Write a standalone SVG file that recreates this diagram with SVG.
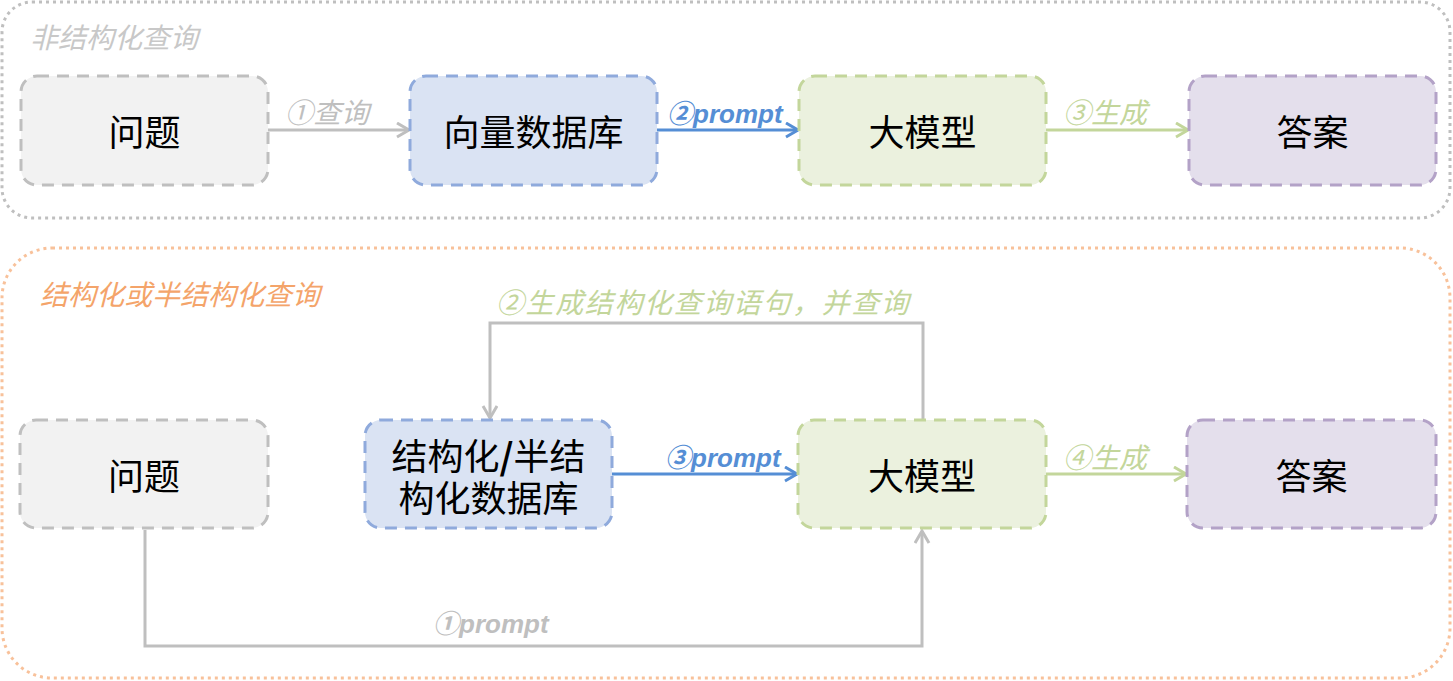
<svg xmlns="http://www.w3.org/2000/svg" width="1453" height="681" viewBox="0 0 1453 681">
<style>
.cont{fill:none;stroke-width:3;stroke-dasharray:3 4}
.node rect{stroke-width:3;stroke-dasharray:12 8}
.gray rect{fill:#f2f2f2;stroke:#bfbfbf}
.blue rect{fill:#dae3f3;stroke:#8faadc}
.green rect{fill:#ebf1de;stroke:#c3d69b}
.purple rect{fill:#e4dfec;stroke:#b3a2c7}
.nt{font-family:"Noto Sans CJK SC","Liberation Sans",sans-serif;font-size:36px;fill:#000;text-anchor:middle;dominant-baseline:central}
.lbl{font-family:"Noto Sans CJK SC",sans-serif;font-style:italic;font-size:28px}
.pl{font-family:"Liberation Sans","Noto Sans CJK SC",sans-serif;font-style:italic;font-weight:bold;font-size:26px}
.c{fill:none;stroke-width:3}
</style>
<defs>
<marker id="ag" markerUnits="userSpaceOnUse" markerWidth="16" markerHeight="18" refX="13" refY="8" orient="auto"><path d="M1,1 L13,8 L1,15" fill="none" stroke="#bfbfbf" stroke-width="3"/></marker>
<marker id="ab" markerUnits="userSpaceOnUse" markerWidth="16" markerHeight="18" refX="13" refY="8" orient="auto"><path d="M1,1 L13,8 L1,15" fill="none" stroke="#558ed5" stroke-width="3"/></marker>
<marker id="agr" markerUnits="userSpaceOnUse" markerWidth="16" markerHeight="18" refX="13" refY="8" orient="auto"><path d="M1,1 L13,8 L1,15" fill="none" stroke="#c3d69b" stroke-width="3"/></marker>
</defs>

<g id="containers">
<rect class="cont" x="2" y="2" width="1448" height="216" rx="30" stroke="#bfbfbf"/>
<rect class="cont" x="2" y="248" width="1448" height="430" rx="50" stroke="#f8c19a"/>
<text class="lbl" x="30" y="48" fill="#c8c8c8" font-size="29">非结构化查询</text>
<text class="lbl" x="40" y="305" fill="#f4a46a" font-size="29">结构化或半结构化查询</text>
</g>

<g id="connectors">
<line class="c" x1="268" y1="130" x2="409" y2="130" stroke="#bfbfbf" marker-end="url(#ag)"/>
<line class="c" x1="657" y1="130" x2="798" y2="130" stroke="#558ed5" marker-end="url(#ab)"/>
<line class="c" x1="1046" y1="130" x2="1188" y2="130" stroke="#c3d69b" marker-end="url(#agr)"/>
<line class="c" x1="612" y1="474" x2="797" y2="474" stroke="#558ed5" marker-end="url(#ab)"/>
<line class="c" x1="1046" y1="474" x2="1186" y2="474" stroke="#c3d69b" marker-end="url(#agr)"/>
<path class="c" d="M923,419 V323 H490 V418" stroke="#bfbfbf" marker-end="url(#ag)"/>
<path class="c" d="M145,530 V646 H922 V531" stroke="#bfbfbf" marker-end="url(#ag)"/>
<text class="lbl" x="285" y="123" fill="#bfbfbf">①查询</text>
<text class="pl" x="667" y="123" fill="#558ed5">②prompt</text>
<text class="lbl" x="1063" y="123" fill="#c3d69b">③生成</text>
<text class="lbl" x="496" y="313" fill="#c3d69b" font-size="31" letter-spacing="1.6">②生成结构化查询语句，并查询</text>
<text class="pl" x="665" y="467" fill="#558ed5">③prompt</text>
<text class="lbl" x="1063" y="468" fill="#c3d69b">④生成</text>
<text class="pl" x="433" y="633" fill="#bfbfbf">①prompt</text>
</g>

<g id="n1" class="node gray"><rect x="21" y="76" width="247" height="109" rx="16"/><text class="nt" x="144.5" y="130">问题</text></g>
<g id="n2" class="node blue"><rect x="410" y="76" width="247" height="109" rx="16"/><text class="nt" x="533.5" y="130">向量数据库</text></g>
<g id="n3" class="node green"><rect x="799" y="76" width="247" height="109" rx="16"/><text class="nt" x="922.5" y="130">大模型</text></g>
<g id="n4" class="node purple"><rect x="1189" y="76" width="247" height="109" rx="16"/><text class="nt" x="1312.5" y="130">答案</text></g>

<g id="m1" class="node gray"><rect x="20" y="420" width="248" height="108" rx="16"/><text class="nt" x="144" y="474">问题</text></g>
<g id="m2" class="node blue"><rect x="365" y="420" width="247" height="108" rx="16"/><text class="nt" x="488.5" y="454">结构化<tspan font-weight="bold">/</tspan>半结<tspan x="488.5" y="496">构化数据库</tspan></text></g>
<g id="m3" class="node green"><rect x="798" y="420" width="248" height="108" rx="16"/><text class="nt" x="922" y="474">大模型</text></g>
<g id="m4" class="node purple"><rect x="1187" y="420" width="249" height="108" rx="16"/><text class="nt" x="1311.5" y="474">答案</text></g>
</svg>
